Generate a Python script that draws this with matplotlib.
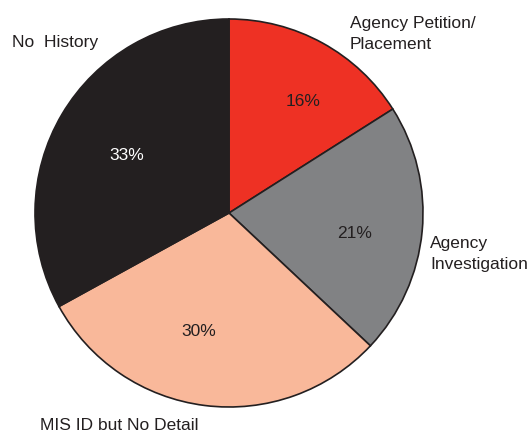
import matplotlib
matplotlib.use("Agg")
import matplotlib.pyplot as plt

categories = ["Agency Petition/\nPlacement", "Agency\nInvestigation", "MIS ID but No Detail", "No  History"]
values = [16, 21, 30, 33]
colors = ["#EE3124", "#818284", "#F9B89A", "#231F20"]
pct_colors = ["#231F20", "#231F20", "#231F20", "#FFFFFF"]

plt.rcParams['font.family'] = ['Liberation Sans', 'DejaVu Sans']

fig = plt.figure(figsize=(5.30, 4.34), dpi=100)
ax = fig.add_axes([0, 0, 1, 1])

wedges, texts, autotexts = ax.pie(
    values, colors=colors, startangle=90, counterclock=False,
    center=(229, 434 - 213), radius=194, autopct='%d%%', pctdistance=0.64,
    wedgeprops=dict(edgecolor="#231F20", linewidth=1.2),
    textprops=dict(fontsize=12.5), frame=True)
pct_pos = [(303, 101), (355, 233), (199, 331), (127, 155)]
for t, c, (x, y) in zip(autotexts, pct_colors, pct_pos):
    t.set_color(c)
    t.set_position((x, 434 - y))
ax.set_xlim(0, 530)
ax.set_ylim(0, 434)
ax.set_aspect('equal')
ax.axis('off')

label_pos = [(350, 434 - 34), (430, 434 - 254), (40, 434 - 425), (12, 434 - 43)]
for lab, (x, y) in zip(categories, label_pos):
    ax.text(x, y, lab, ha='left', va='center', fontsize=12.5, color="#231F20", linespacing=1.5)

fig.savefig("out.png", dpi=100)
